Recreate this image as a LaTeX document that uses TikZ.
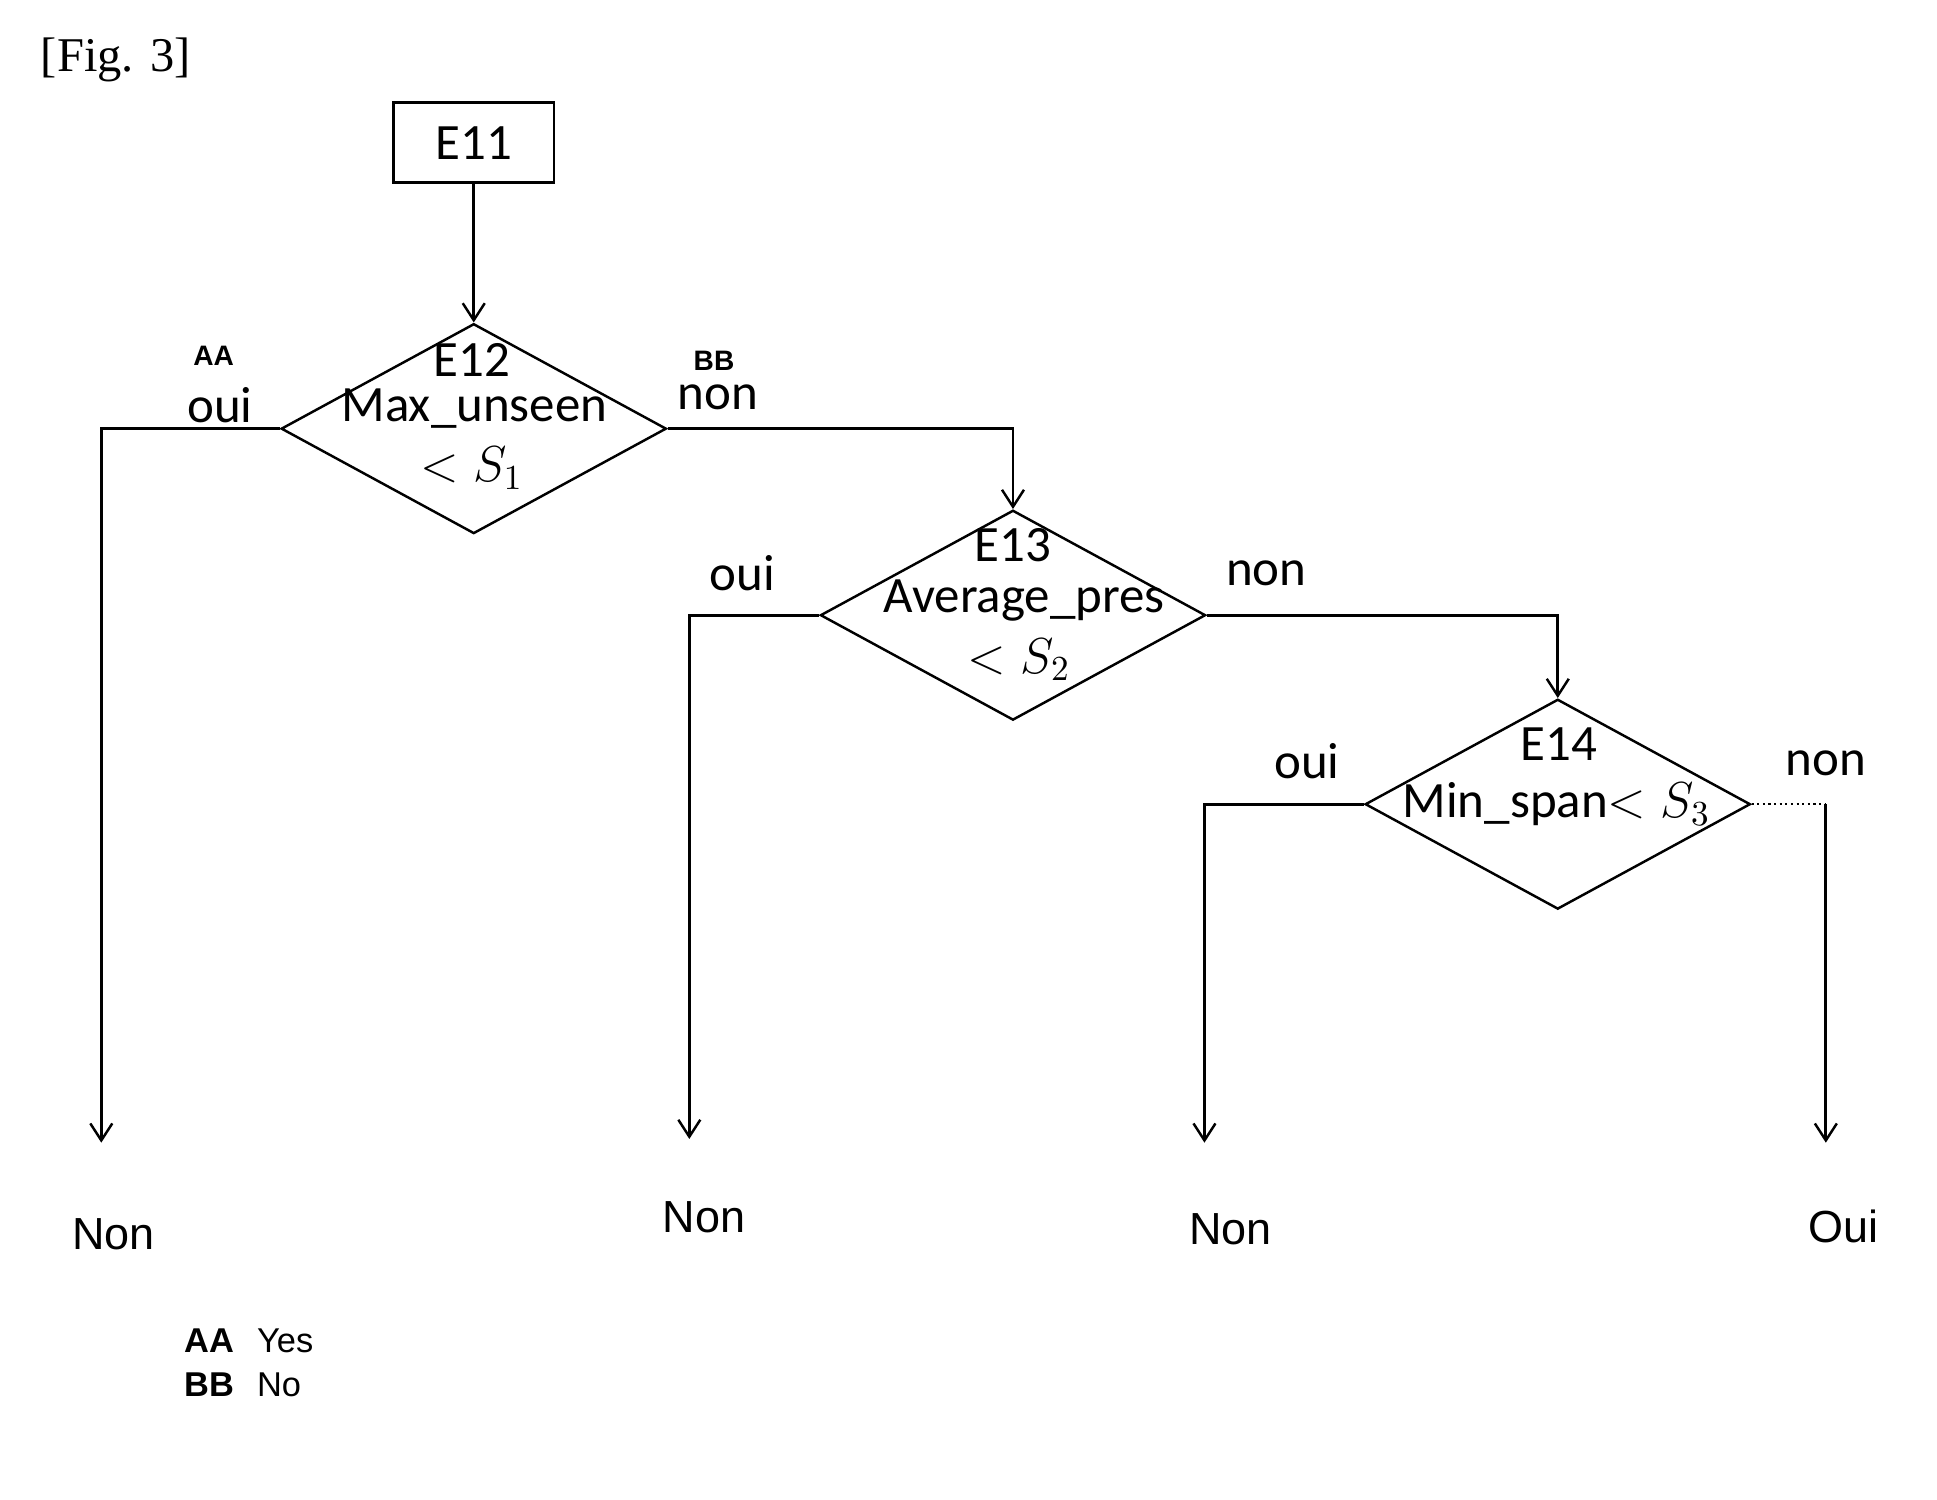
\documentclass[tikz,border=0pt]{standalone}
\usepackage{fontspec}
\setmainfont{Carlito}
\newfontfamily\figfont{Liberation Serif}
\newfontfamily\arialfont{Liberation Sans}
\usetikzlibrary{arrows.meta,shapes.geometric}
\begin{document}
\begin{tikzpicture}[x=0.012353cm,y=-0.012353cm,
  line width=0.8pt,
  flow/.style={-{Straight Barb[length=1.7mm,width=2.2mm,line width=0.7pt]}},
  stepbox/.style={draw,rectangle,minimum width=1.606cm,minimum height=0.803cm,inner sep=0pt,font=\fontsize{14.5}{16}\selectfont},
  decision/.style={draw,diamond,line width=0.7pt,inner sep=0pt,minimum width=3.854cm,minimum height=2.100cm},
  dtext/.style={inner sep=0pt,font=\fontsize{14.5}{16}\selectfont},
  branch/.style={inner sep=0pt,font=\fontsize{14.5}{16}\selectfont},
  tag/.style={inner sep=0pt,font=\arialfont\bfseries\fontsize{8}{9}\selectfont},
  outcome/.style={inner sep=0pt,font=\arialfont\fontsize{12.8}{14}\selectfont},
  legend/.style={inner sep=0pt,anchor=west,font=\arialfont\fontsize{9.8}{11}\selectfont}]
\useasboundingbox (0,0) rectangle (1568,1214);

% title
\node[anchor=base west,inner sep=0pt,font=\figfont\fontsize{13.8}{16}\selectfont] (fig) at (32,58) {[Fig. 3]};

% start step and decisions
\node[stepbox] (e11) at (383.5,115.5) {E11};
\node[decision] (d12) at (383.5,347) {};
\node[decision] (d13) at (820,498) {};
\node[decision] (d14) at (1261,651) {};

% texts inside the decisions
\node[dtext] (t12a) at (382,291) {E12};
\node[dtext] (t12b) at (384,331) {Max\_unseen};
\node[dtext] (t12c) at (382,379) {$<S_1$};
\node[dtext] (t13a) at (820,441) {E13};
\node[dtext] (t13b) at (829,486) {Average\_pres};
\node[dtext] (t13c) at (825,534) {$<S_2$};
\node[dtext] (t14a) at (1262,602) {E14};
\node[dtext] (t14b) at (1260,651) {Min\_span$<S_3$};

% end points of the branches
\coordinate (c12l) at (82,347);
\coordinate (c12r) at (820,347);
\coordinate (c13l) at (558,498);
\coordinate (c13r) at (1261,498);
\coordinate (c14l) at (975,651);
\coordinate (c14r) at (1478,651);
\coordinate (n1) at (82,925);
\coordinate (n2) at (558,922);
\coordinate (n3) at (975,925);
\coordinate (n4) at (1478,925);

% connectors
\draw[flow] (e11.south) -- (d12.north);
\draw[flow] (d12.west) -- (c12l) -- (n1);
\draw[flow] (d12.east) -- (c12r) -- (d13.north);
\draw[flow] (d13.west) -- (c13l) -- (n2);
\draw[flow] (d13.east) -- (c13r) -- (d14.north);
\draw[flow] (d14.west) -- (c14l) -- (n3);
\draw[densely dotted,line width=0.6pt] (d14.east) -- (c14r);
\draw[flow] (c14r) -- (n4);

% branch labels
\node[tag] (aa) at (173,288) {AA};
\node[branch] (oui1) at (178,328) {oui};
\node[tag] (bb) at (578,292) {BB};
\node[branch] (non1) at (581,322) {non};
\node[branch] (oui2) at (601,464) {oui};
\node[branch] (non2) at (1025,464) {non};
\node[branch] (oui3) at (1058,616) {oui};
\node[branch] (non3) at (1478,618) {non};

% outcomes
\node[outcome] (o1) at (92,999) {Non};
\node[outcome] (o2) at (570,985) {Non};
\node[outcome] (o3) at (996,995) {Non};
\node[outcome] (o4) at (1492,993) {Oui};

% legend
\node[legend,font=\arialfont\bfseries\fontsize{9.8}{11}\selectfont] (la) at (148,1085) {AA};
\node[legend] (ly) at (207,1085) {Yes};
\node[legend,font=\arialfont\bfseries\fontsize{9.8}{11}\selectfont] (lb) at (148,1121) {BB};
\node[legend] (ln) at (207,1121) {No};
\end{tikzpicture}
\end{document}
